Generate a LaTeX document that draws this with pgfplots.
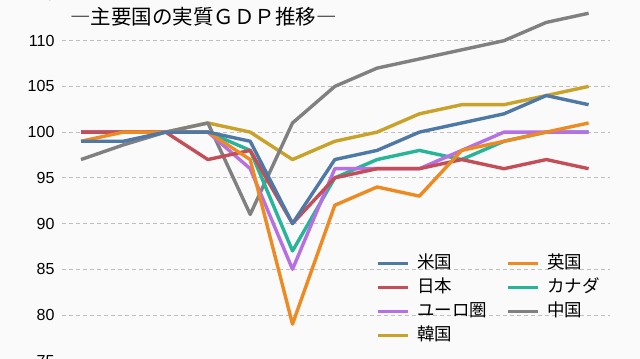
\documentclass[border=0pt]{standalone}
\usepackage{fontspec}
\setmainfont{Liberation Sans}
\newfontfamily\jp{Noto Sans CJK JP}
\usepackage{pgfplots}
\usepackage{pgfplotstable}
\pgfplotsset{compat=1.18}
\usetikzlibrary{backgrounds}
\definecolor{cUS}{HTML}{4E79A7}
\definecolor{cUK}{HTML}{EE8A22}
\definecolor{cJP}{HTML}{C44E58}
\definecolor{cCA}{HTML}{26B598}
\definecolor{cEU}{HTML}{B76FE4}
\definecolor{cCN}{HTML}{808080}
\definecolor{cKR}{HTML}{C9A229}
\definecolor{bg}{HTML}{FAFAFA}
\pgfplotstableread{
i  US   UK   JP   CA   EU   CN    KR
0  99   99   100  100  100  97    100
1  99   100  100  100  100  98.6  100
2  100  100  100  100  100  100   100
3  100  100  97   100  100  101   101
4  99   97   98   98   96   91    100
5  90   79   90   87   85   101   97
6  97   92   95   95   96   105   99
7  98   94   96   97   96   107   100
8  100  93   96   98   96   108   102
9  101  98   97   97   98   109   103
10 102  99   96   99   100  110   103
11 104  100  97   100  100  112   104
12 103  101  96   100  100  113   105
}\gdp
\begin{document}
\begin{tikzpicture}
\begin{axis}[
 x=42.3pt, y=9.143pt,
 xmin=-0.45, xmax=12.5, ymin=75, ymax=115,
 axis line style={draw=none},
 xtick=\empty,
 ytick={75,80,...,115},
 major tick length=0pt,
 ymajorgrids,
 grid style={dash pattern=on 4pt off 3pt, color=black!25, line width=0.8pt},
 /pgf/number format/assume math mode=true,
 yticklabel style={font=\fontsize{16}{16}\selectfont, xshift=-4pt},
 clip=false,
 legend columns=2,
 legend style={draw=none, fill=none, at={(axis cs:6.9,87.0)}, anchor=north west,
   font=\jp\fontsize{17.5}{17.5}\selectfont,
   cells={anchor=west},
   nodes={inner sep=2pt, text height=13.5pt, text depth=3.8pt},
   row sep=2.6pt,
   /tikz/every even column/.append style={column sep=17pt}},
 legend image code/.code={\draw[line width=3pt] (0pt,0pt) -- (30pt,0pt); \path (36pt,0pt);},
 every axis plot/.append style={line width=3.4pt, line join=round, mark=none},
]
\coordinate (bl) at (axis cs:-1.915,75.19);
\coordinate (tr) at (axis cs:13.215,114.45);
\addplot[cKR, forget plot] table[x=i, y=KR] {\gdp};
\addplot[cCN, forget plot] table[x=i, y=CN] {\gdp};
\addplot[cCA, forget plot] table[x=i, y=CA] {\gdp};
\addplot[cEU, forget plot] table[x=i, y=EU] {\gdp};
\addplot[cJP, forget plot] table[x=i, y=JP] {\gdp};
\addplot[cUK, forget plot] table[x=i, y=UK] {\gdp};
\addplot[cUS, forget plot] table[x=i, y=US] {\gdp};
\addlegendimage{cUS}\addlegendentry{米国}
\addlegendimage{cUK}\addlegendentry{英国}
\addlegendimage{cJP}\addlegendentry{日本}
\addlegendimage{cCA}\addlegendentry{カナダ}
\addlegendimage{cEU}\addlegendentry{ユーロ圏}
\addlegendimage{cCN}\addlegendentry{中国}
\addlegendimage{cKR}\addlegendentry{韓国}
\node[anchor=west, font=\jp\fontsize{20.5}{20.5}\selectfont, inner sep=0pt] at (axis cs:-0.26,112.6) {―主要国の実質ＧＤＰ推移―};
\end{axis}
\begin{scope}[on background layer]
\fill[bg] (bl) rectangle (tr);
\end{scope}
\pgfresetboundingbox
\path[use as bounding box] (bl) rectangle (tr);
\end{tikzpicture}
\end{document}
